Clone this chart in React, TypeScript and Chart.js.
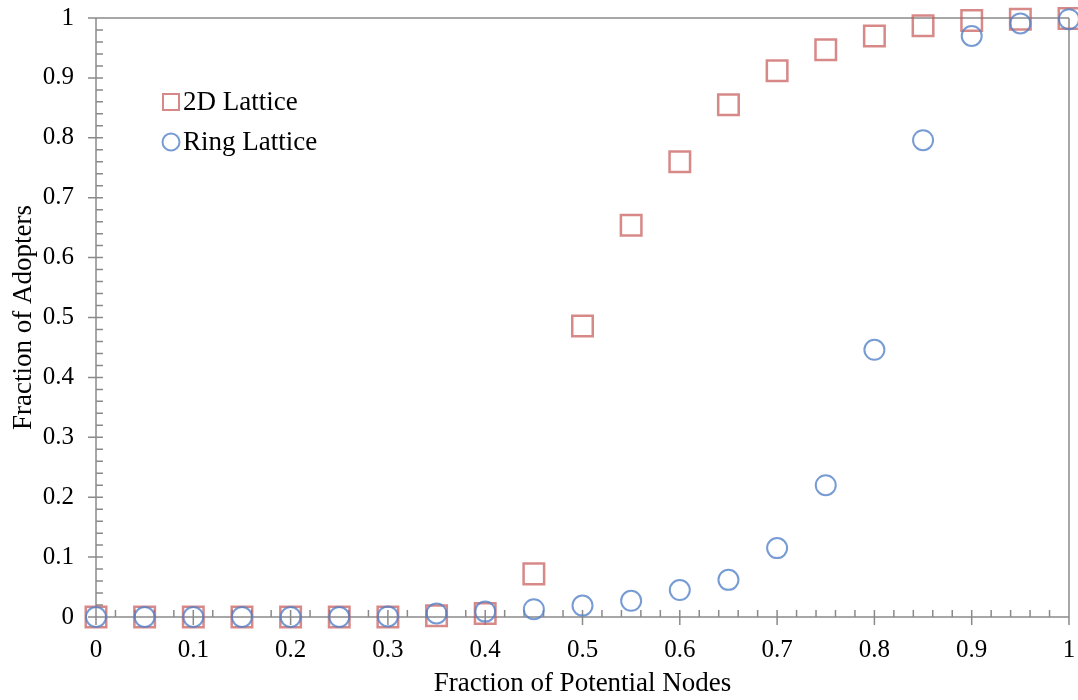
import React, { useEffect, useRef } from 'react';
import { Chart, registerables } from 'chart.js';

Chart.register(...registerables);

const xValues = [0, 0.05, 0.1, 0.15, 0.2, 0.25, 0.3, 0.35, 0.4, 0.45, 0.5, 0.55, 0.6, 0.65, 0.7, 0.75, 0.8, 0.85, 0.9, 0.95, 1];
const lattice2D = [0, 0, 0, 0, 0, 0, 0, 0.002, 0.006, 0.072, 0.486, 0.654, 0.76, 0.855, 0.912, 0.947, 0.97, 0.987, 0.996, 0.998, 0.999];
const ringLattice = [0, 0, 0, 0, 0, 0, 0.001, 0.006, 0.009, 0.013, 0.019, 0.027, 0.045, 0.062, 0.115, 0.22, 0.446, 0.796, 0.97, 0.991, 0.998];
const seriesNames = ['2D Lattice', 'Ring Lattice'];
const tickStep = 0.1;
const minorStep = 0.02;

const SERIF = '"Liberation Serif", "Times New Roman", serif';
const RED = 'rgba(200, 92, 90, 0.72)';
const BLUE = 'rgba(85, 130, 200, 0.8)';
const AXIS = '#8a8a8a';

const axesPlugin = {
  id: 'customAxes',
  beforeDatasetsDraw(chart: any) {
    const { ctx, scales } = chart;
    const xs = scales.x;
    const ys = scales.y;
    const x0 = xs.getPixelForValue(0);
    const x1 = xs.getPixelForValue(1);
    const y0 = ys.getPixelForValue(0);
    const y1 = ys.getPixelForValue(1);
    ctx.save();
    ctx.strokeStyle = AXIS;
    ctx.lineWidth = 1.5;
    ctx.beginPath();
    ctx.moveTo(x0 - 8, y1); ctx.lineTo(x1, y1);
    ctx.moveTo(x1, y1); ctx.lineTo(x1, y0 + 8);
    ctx.moveTo(x0, y1); ctx.lineTo(x0, y0);
    ctx.moveTo(x0, y0); ctx.lineTo(x1, y0);
    const n = Math.round(1 / minorStep);
    const every = Math.round(tickStep / minorStep);
    for (let i = 0; i <= n; i++) {
      const v = i * minorStep;
      const major = i % every === 0;
      const px = xs.getPixelForValue(v);
      const py = ys.getPixelForValue(v);
      if (major) {
        ctx.moveTo(px, y0 - 7); ctx.lineTo(px, y0 + 8);
        ctx.moveTo(x0 - 8, py); ctx.lineTo(x0 + 7, py);
      } else {
        ctx.moveTo(px, y0 - 7); ctx.lineTo(px, y0);
        ctx.moveTo(x0, py); ctx.lineTo(x0 + 7, py);
      }
    }
    ctx.stroke();
    ctx.restore();
  },
  afterDraw(chart: any) {
    const { ctx } = chart;
    ctx.save();
    const lx = 171;
    const rows = [102, 142];
    ctx.lineWidth = 2;
    ctx.strokeStyle = RED;
    ctx.strokeRect(lx - 8, rows[0] - 8, 16, 16);
    ctx.strokeStyle = BLUE;
    ctx.beginPath();
    ctx.arc(lx, rows[1], 8.5, 0, Math.PI * 2);
    ctx.stroke();
    ctx.fillStyle = '#000';
    ctx.font = `27px ${SERIF}`;
    ctx.textBaseline = 'middle';
    ctx.textAlign = 'left';
    ctx.fillText(seriesNames[0], 183, rows[0] + 1);
    ctx.fillText(seriesNames[1], 183, rows[1] + 1);
    ctx.restore();
  },
};

const zeroPad = (s: any) => {
  s.paddingTop = 0;
  s.paddingBottom = 0;
  s.paddingLeft = 0;
  s.paddingRight = 0;
};

export default function App() {
  const ref = useRef<HTMLCanvasElement>(null);
  useEffect(() => {
    document.body.style.margin = '0';
    const canvas = ref.current!;
    const fmt = (v: any) => String(Math.round(Number(v) * 10) / 10);
    const chart = new Chart(canvas, {
      type: 'scatter',
      data: {
        datasets: [
          {
            label: seriesNames[1],
            data: xValues.map((x, i) => ({ x, y: ringLattice[i] })),
            pointStyle: 'circle',
            pointRadius: 10,
            borderWidth: 2,
            borderColor: BLUE,
            backgroundColor: 'rgba(0,0,0,0)',
            showLine: false,
            clip: false,
          },
          {
            label: seriesNames[0],
            data: xValues.map((x, i) => ({ x, y: lattice2D[i] })),
            pointStyle: 'rect',
            pointRadius: 14.5,
            borderWidth: 2.5,
            borderColor: RED,
            backgroundColor: 'rgba(0,0,0,0)',
            showLine: false,
            clip: false,
          },
        ],
      },
      options: {
        responsive: false,
        animation: false,
        events: [],
        layout: { autoPadding: false, padding: { top: 18, right: 9, left: 0, bottom: 0 } },
        plugins: { legend: { display: false }, tooltip: { enabled: false } },
        scales: {
          x: {
            type: 'linear',
            min: 0,
            max: 1,
            grid: { display: false, drawTicks: false },
            border: { display: false },
            ticks: { stepSize: tickStep, color: '#000', font: { family: SERIF, size: 25 }, padding: 18, callback: fmt, maxRotation: 0 },
            title: { display: true, text: 'Fraction of Potential Nodes', color: '#000', font: { family: SERIF, size: 27 }, padding: { top: 0, bottom: 0 } },
            afterFit: (s: any) => { s.height = 83; zeroPad(s); },
          },
          y: {
            type: 'linear',
            min: 0,
            max: 1,
            grid: { display: false, drawTicks: false },
            border: { display: false },
            ticks: { stepSize: tickStep, color: '#000', font: { family: SERIF, size: 25 }, padding: 22, callback: fmt },
            title: { display: true, text: 'Fraction of Adopters', color: '#000', font: { family: SERIF, size: 27 }, padding: { top: 8, bottom: 0 } },
            afterFit: (s: any) => { s.width = 96; zeroPad(s); },
          },
        },
      },
      plugins: [axesPlugin],
    });
    return () => chart.destroy();
  }, []);
  return (
    <div style={{ width: 1078, height: 700 }}>
      <canvas ref={ref} width={1078} height={700} style={{ display: 'block' }} />
    </div>
  );
}
